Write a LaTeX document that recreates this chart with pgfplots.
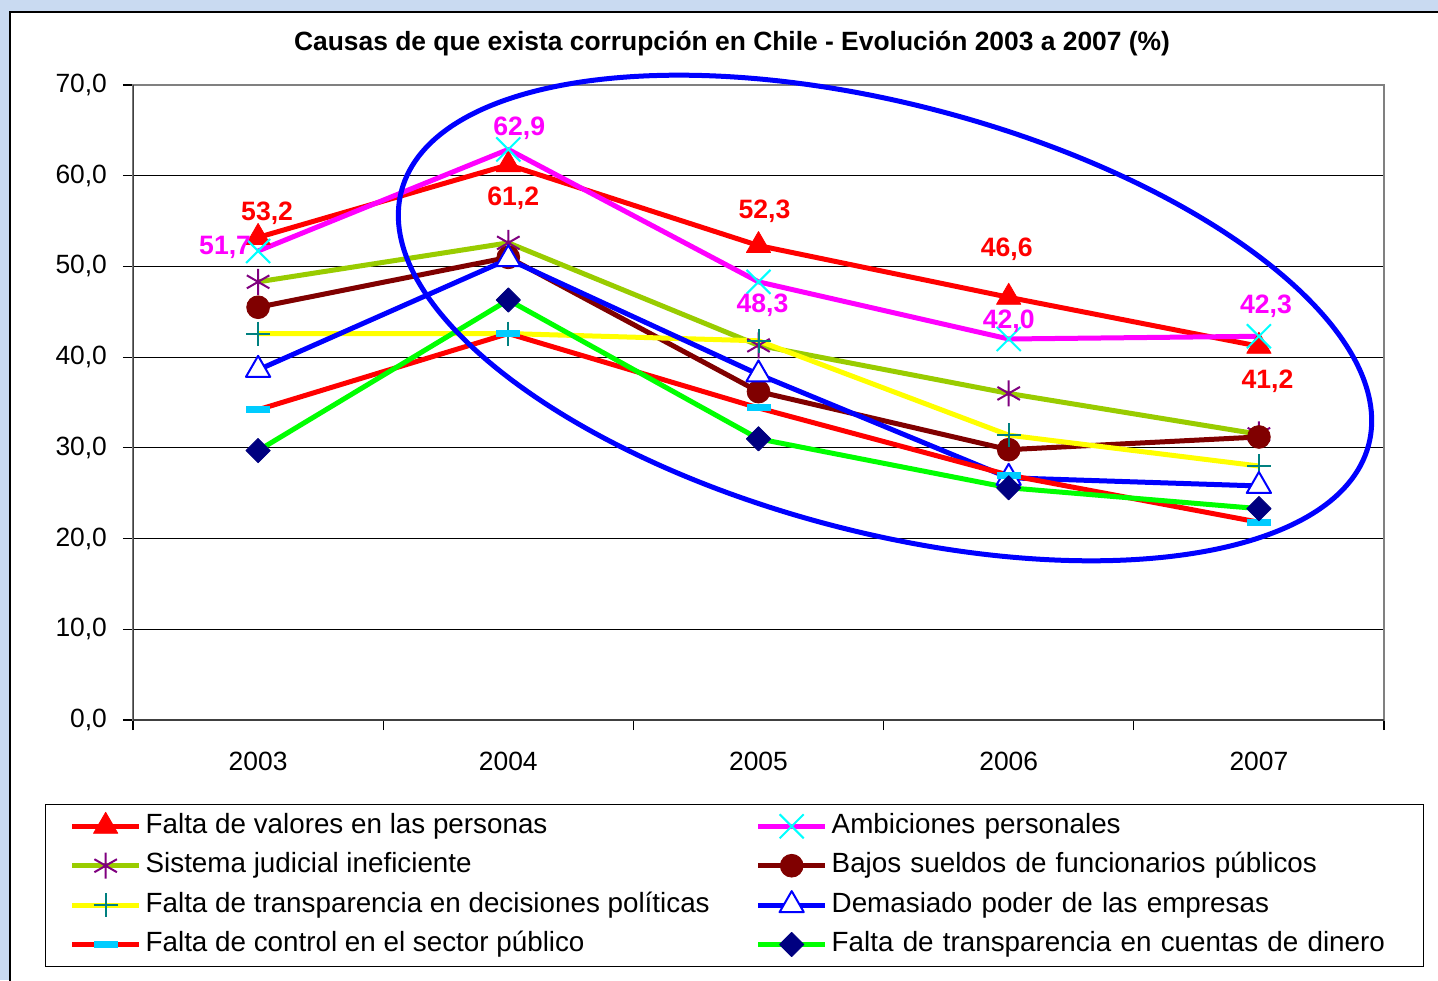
\documentclass[border=0pt]{standalone}
\usepackage{fontspec}
\setmainfont{Liberation Sans}
\usepackage{pgfplots}
\pgfplotsset{compat=1.18}
\usepackage{pgfplotstable}

\definecolor{bgblue}{RGB}{201,218,241}
\definecolor{cMag}{RGB}{255,0,255}
\definecolor{cCyan}{RGB}{0,255,255}
\definecolor{cOlive}{RGB}{153,204,0}
\definecolor{cPurple}{RGB}{128,0,128}
\definecolor{cMaroon}{RGB}{128,0,0}
\definecolor{cYellow}{RGB}{255,255,0}
\definecolor{cTeal}{RGB}{0,128,128}
\definecolor{cSky}{RGB}{0,204,255}
\definecolor{cNavy}{RGB}{0,0,128}
\definecolor{cGreen}{RGB}{0,255,0}

\pgfplotstableread{
x y
0 53.2
1 61.2
2 52.3
3 46.6
4 41.2
}\tA
\pgfplotstableread{
x y
0 51.7
1 62.9
2 48.3
3 42.0
4 42.3
}\tB
\pgfplotstableread{
x y
0 48.3
1 52.6
2 41.3
3 36.0
4 31.5
}\tC
\pgfplotstableread{
x y
0 45.5
1 51.0
2 36.2
3 29.8
4 31.2
}\tD
\pgfplotstableread{
x y
0 42.6
1 42.6
2 41.8
3 31.4
4 28.0
}\tE
\pgfplotstableread{
x y
0 38.6
1 50.8
2 38.1
3 26.7
4 25.8
}\tF
\pgfplotstableread{
x y
0 34.2
1 42.6
2 34.4
3 27.0
4 21.8
}\tG
\pgfplotstableread{
x y
0 29.7
1 46.3
2 31.0
3 25.6
4 23.3
}\tH

\begin{document}
\begin{tikzpicture}
\useasboundingbox (0,0) rectangle (719pt,490pt);
\clip (0,0) rectangle (719pt,490pt);
\fill[bgblue] (0,0) rectangle (719pt,490pt);
\filldraw[fill=white, draw=black, line width=1pt] (5pt,-10pt) rectangle (730pt,484pt);
\node[font=\bfseries\fontsize{13.2}{15}\selectfont] at (366pt,468pt)
  {Causas de que exista corrupción en Chile - Evolución 2003 a 2007 (\%)};
\begin{axis}[
  at={(66.5pt,130pt)}, anchor=south west,
  scale only axis, width=625.5pt, height=317.5pt,
  xmin=-0.5, xmax=4.5, ymin=0, ymax=70,
  xtick={-0.5,0.5,1.5,2.5,3.5,4.5}, xticklabels={},
  extra x ticks={0,1,2,3,4},
  extra x tick labels={2003,2004,2005,2006,2007},
  extra x tick style={major tick length=0pt, tick label style={yshift=-12.5pt}},
  ytick={0,10,...,70},
  tick align=outside, tick pos=left, major tick length=5pt,
  tick style={black, line width=0.6pt},
  ymajorgrids, grid style={black, line width=0.5pt},
  axis line style={draw=gray, line width=1pt},
  ticklabel style={font=\fontsize{13.2}{15}\selectfont},
  yticklabel style={xshift=-4.5pt, /pgf/number format/.cd, fixed, fixed zerofill, precision=1, use comma, assume math mode=true},
  legend columns=2,
  legend cell align=left,
  legend image code/.code={\draw[mark repeat=2,mark phase=2] plot coordinates {(0pt,0pt) (16.75pt,0pt) (33.5pt,0pt)};},
  legend style={at={(-0.0703,-0.1323)}, anchor=north west, draw=black, line width=0.6pt,
    font=\fontsize{13.9}{16}\selectfont, inner xsep=12pt, inner ysep=1pt, row sep=0pt,
    /tikz/every even column/.append style={column sep=21pt},
    /tikz/column 4/.append style={text width=282pt},
    nodes={inner xsep=2pt, inner ysep=2.85pt, text height=10.5pt, text depth=3.5pt}},
  every axis plot/.append style={line join=round},
  lab/.style n args={3}{draw=none, mark=none, forget plot,
    point meta=y, nodes near coords={\pgfmathprintnumber[fixed, fixed zerofill, precision=1, use comma, assume math mode=true]{\pgfplotspointmeta}},
    every node near coord/.append style={anchor=center, xshift=#2*0.5pt, yshift=#3*0.5pt-1pt,
      font=\bfseries\fontsize{13.3}{15}\selectfont, text=#1, inner sep=0pt}},
]
\addplot[red, line width=2.5pt, mark=triangle*, mark size=7pt,
  mark options={solid, fill=red, draw=red, line width=0.4pt}]
  table[x=x, y=y] {\tA};
\addlegendentry{Falta de valores en las personas}
\addplot[cMag, line width=2.5pt, mark=x, mark size=8.5pt,
  mark options={solid, draw=cCyan, line width=1pt}]
  table[x=x, y=y] {\tB};
\addlegendentry{Ambiciones personales}
\addplot[cOlive, line width=2.5pt, mark=asterisk, mark size=6.5pt,
  mark options={solid, draw=cPurple, line width=1pt}]
  table[x=x, y=y] {\tC};
\addlegendentry{Sistema judicial ineficiente}
\addplot[cMaroon, line width=2.5pt, mark=*, mark size=5.7pt,
  mark options={solid, fill=cMaroon, draw=cMaroon, line width=0.4pt}]
  table[x=x, y=y] {\tD};
\addlegendentry{Bajos sueldos de funcionarios públicos}
\addplot[cYellow, line width=2.5pt, mark=+, mark size=6pt,
  mark options={solid, draw=cTeal, line width=1pt}]
  table[x=x, y=y] {\tE};
\addlegendentry{Falta de transparencia en decisiones políticas}
\addplot[blue, line width=2.5pt, mark=triangle*, mark size=7pt,
  mark options={solid, fill=white, draw=blue, line width=1pt}]
  table[x=x, y=y] {\tF};
\addlegendentry{Demasiado poder de las empresas}
\addplot[red, line width=2.5pt, mark=-, mark size=6pt,
  mark options={solid, draw=cSky, line width=3.5pt}]
  table[x=x, y=y] {\tG};
\addlegendentry{Falta de control en el sector público}
\addplot[cGreen, line width=2.5pt, mark=square*, mark size=4.3pt,
  mark options={solid, rotate=45, fill=cNavy, draw=cNavy, line width=0.4pt}]
  table[x=x, y=y] {\tH};
\addlegendentry{Falta de transparencia en cuentas de dinero}
% data labels
\addplot[lab={red}{9}{26.5}] coordinates {(0,53.2)};
\addplot[lab={red}{5}{-31.5}] coordinates {(1,61.2)};
\addplot[lab={red}{6}{36.6}] coordinates {(2,52.3)};
\addplot[lab={red}{-2}{50}] coordinates {(3,46.6)};
\addplot[lab={red}{8.5}{-32.7}] coordinates {(4,41.2)};
\addplot[lab={cMag}{-33}{6}] coordinates {(0,51.7)};
\addplot[lab={cMag}{11}{23}] coordinates {(1,62.9)};
\addplot[lab={cMag}{4}{-21}] coordinates {(2,48.3)};
\addplot[lab={cMag}{0}{20}] coordinates {(3,42.0)};
\addplot[lab={cMag}{7}{32}] coordinates {(4,42.3)};
\draw[black!75, line width=0.8pt] (rel axis cs:0,1) -- (rel axis cs:0,0) -- (rel axis cs:1,0);
\end{axis}
\draw[blue, line width=2.5pt, rotate around={-14.7:(442.5pt,331pt)}]
  (442.5pt,331pt) ellipse [x radius=250pt, y radius=107pt];
\end{tikzpicture}
\end{document}
